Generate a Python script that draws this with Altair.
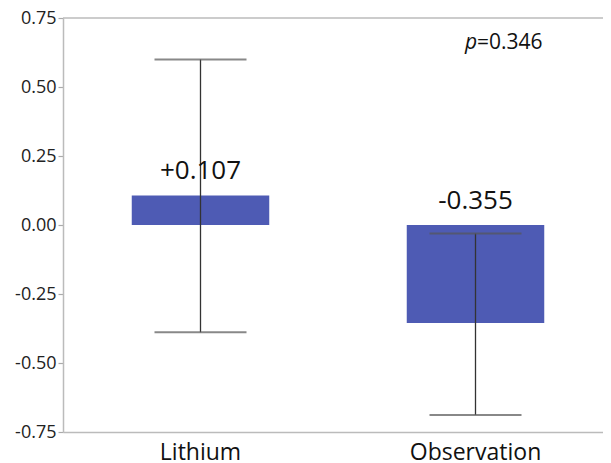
import altair as alt
import pandas as pd

# ---- data ----
categories = ["Lithium", "Observation"]
means = [0.107, -0.355]
ci_low = [-0.389, -0.688]
ci_high = [0.600, -0.031]
value_labels = ["+0.107", "-0.355"]
y_ticks = [-0.75, -0.5, -0.25, 0.0, 0.25, 0.5, 0.75]
p_label = "=0.346"

df = pd.DataFrame({
    "group": categories,
    "mean": means,
    "lo": ci_low,
    "hi": ci_high,
    "label": value_labels,
})
df["label_y"] = df["mean"].clip(lower=0)

FONT = "Open Sans"
W, H = 540, 414

x_scale = alt.Scale(range=[0, 550], paddingInner=0.5, paddingOuter=0.25)
x_axis = alt.Axis(title=None, labelAngle=0, ticks=False, labelFontSize=23,
                  labelColor="#111111", labelPadding=9, labelFont=FONT,
                  domainColor="#bbbbbb", domainWidth=1.5)
y_scale = alt.Scale(domain=[-0.75, 0.75], nice=False, zero=False)
y_axis = alt.Axis(title=None, values=y_ticks, grid=False,
                  labelExpr="(datum.value < 0 ? '-' : '') + format(abs(datum.value), '.2f')",
                  labelFontSize=18, labelColor="#222222", labelFont=FONT,
                  labelPadding=2, tickSize=5, tickColor="#aaaaaa", tickWidth=1.2,
                  domainColor="#bbbbbb", domainWidth=1.5)

X = alt.X("group:N", sort=categories, scale=x_scale, axis=x_axis)
base = alt.Chart(df)

bars = base.mark_bar(color="#4E5BB4").encode(
    x=X,
    y=alt.Y("mean:Q", scale=y_scale, axis=y_axis),
    y2=alt.datum(0),
)
whisker = base.mark_rule(color="#333333", strokeWidth=1.3).encode(
    x=X, y=alt.Y("lo:Q"), y2="hi:Q"
)
cap_lo = base.mark_tick(color="#555555", thickness=2, size=92).encode(x=X, y="lo:Q")
cap_hi = base.mark_tick(color="#555555", thickness=2, size=92).encode(x=X, y="hi:Q")
labels = base.mark_text(fontSize=26, dy=-16, baseline="alphabetic", font=FONT,
                        color="#111111").encode(x=X, y="label_y:Q", text="label:N")

one = pd.DataFrame({"k": [0]})
top_border = alt.Chart(one).mark_rule(color="#bbbbbb", strokeWidth=1.5).encode(
    x=alt.value(0), x2=alt.value(W), y=alt.value(0)
)
p_italic = alt.Chart(one).mark_text(fontSize=21, fontStyle="italic", align="left",
                                    baseline="alphabetic", font=FONT, color="#111111").encode(
    x=alt.value(402), y=alt.value(31), text=alt.value("p")
)
p_value = alt.Chart(one).mark_text(fontSize=21, align="left", baseline="alphabetic",
                                   font=FONT, color="#111111").encode(
    x=alt.value(414), y=alt.value(31), text=alt.value(p_label)
)

chart = alt.layer(bars, whisker, cap_lo, cap_hi, labels, top_border, p_italic, p_value).properties(
    width=W, height=H,
    padding={"left": 55, "top": 10, "right": 0, "bottom": 31},
    autosize=alt.AutoSizeParams(type="none"),
    background="white",
).configure_view(stroke=None)

chart.save("out.html", embed_options={"renderer": "svg", "actions": False})
